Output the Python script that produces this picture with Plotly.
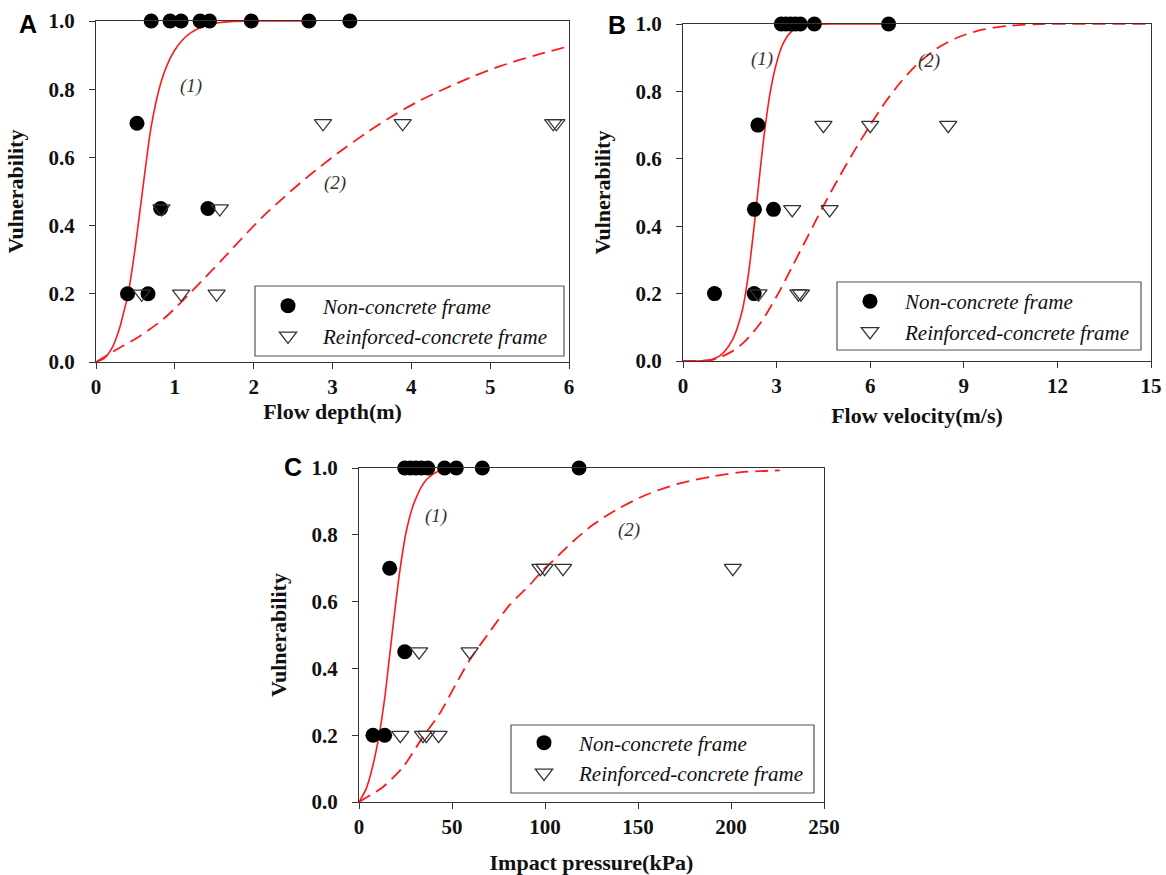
import plotly.graph_objects as go

# ---------------- data ----------------
# Panel A : flow depth (m)
a_nc_x = [0.70, 0.94, 1.08, 1.32, 1.44, 1.97, 2.70, 3.22, 0.52, 0.82, 1.42, 0.40, 0.66]
a_nc_y = [1.0, 1.0, 1.0, 1.0, 1.0, 1.0, 1.0, 1.0, 0.70, 0.45, 0.45, 0.20, 0.20]
a_rc_x = [2.88, 3.89, 5.80, 5.84, 0.83, 1.57, 0.58, 1.08, 1.53]
a_rc_y = [0.70, 0.70, 0.70, 0.70, 0.45, 0.45, 0.20, 0.20, 0.20]
a_fit1_x = [0, 0.1, 0.2, 0.3, 0.35, 0.4, 0.45, 0.5, 0.55, 0.6, 0.65, 0.7, 0.8, 0.9, 1.0, 1.1, 1.2, 1.35, 1.5, 1.7, 2.0, 2.8]
a_fit1_y = [0, 0.01, 0.04, 0.10, 0.145, 0.19, 0.26, 0.34, 0.43, 0.52, 0.61, 0.69, 0.80, 0.87, 0.915, 0.945, 0.965, 0.983, 0.993, 0.998, 1.0, 1.0]
a_fit2_x = [0, 0.25, 0.55, 0.85, 1.10, 1.35, 1.60, 1.86, 2.11, 2.37, 2.59, 2.84, 3.10, 3.43, 3.73, 4.07, 4.41, 4.79, 5.12, 5.55, 6.0]
a_fit2_y = [0, 0.035, 0.075, 0.125, 0.18, 0.24, 0.30, 0.365, 0.425, 0.48, 0.525, 0.572, 0.618, 0.672, 0.717, 0.762, 0.80, 0.838, 0.867, 0.898, 0.926]

# Panel B : flow velocity (m/s)
b_nc_x = [3.15, 3.30, 3.45, 3.60, 3.76, 4.21, 6.59, 2.40, 2.29, 2.90, 1.01, 2.28]
b_nc_y = [1.0, 1.0, 1.0, 1.0, 1.0, 1.0, 1.0, 0.70, 0.45, 0.45, 0.20, 0.20]
b_rc_x = [4.50, 6.00, 8.50, 3.50, 4.70, 2.42, 3.70, 3.78]
b_rc_y = [0.70, 0.70, 0.70, 0.45, 0.45, 0.20, 0.20, 0.20]
b_fit1_x = [0, 0.8, 1.2, 1.6, 1.9, 2.1, 2.28, 2.42, 2.6, 2.8, 3.0, 3.2, 3.45, 3.8, 4.3, 5.0, 6.6]
b_fit1_y = [0, 0.002, 0.017, 0.066, 0.15, 0.26, 0.40, 0.52, 0.67, 0.80, 0.885, 0.94, 0.975, 0.993, 0.999, 1.0, 1.0]
b_fit2_x = [0, 1.0, 1.6, 2.0, 2.5, 3.05, 3.5, 4.0, 4.5, 5.0, 5.5, 6.0, 6.5, 7.0, 7.5, 8.1, 8.8, 9.6, 10.5, 11.5, 15.0]
b_fit2_y = [0, 0.005, 0.03, 0.06, 0.115, 0.20, 0.28, 0.37, 0.46, 0.545, 0.625, 0.70, 0.77, 0.83, 0.88, 0.925, 0.96, 0.983, 0.995, 1.0, 1.0]

# Panel C : impact pressure (kPa)
c_nc_x = [24.6, 27.5, 30.5, 33.5, 37.0, 46.0, 52.3, 66.3, 118.3, 16.5, 24.6, 7.5, 13.8]
c_nc_y = [1.0, 1.0, 1.0, 1.0, 1.0, 1.0, 1.0, 1.0, 1.0, 0.70, 0.45, 0.20, 0.20]
c_rc_x = [97.5, 99.8, 109.7, 201.0, 32.3, 59.5, 22.2, 34.4, 36.2, 42.8]
c_rc_y = [0.70, 0.70, 0.70, 0.70, 0.45, 0.45, 0.20, 0.20, 0.20, 0.20]
c_fit1_x = [0, 3.9, 7.5, 10.8, 13.8, 16.5, 19.2, 21.9, 25.4, 29.9, 36.2, 43.4, 53.0]
c_fit1_y = [0, 0.04, 0.11, 0.20, 0.31, 0.44, 0.57, 0.69, 0.81, 0.90, 0.965, 0.992, 1.0]
c_fit2_x = [0, 6, 12.9, 23.7, 34.4, 43.4, 52.3, 59.5, 70.3, 81, 91.8, 99, 104.3, 115, 125.8, 138.4, 154.5, 172.4, 190.3, 204.7, 226.2]
c_fit2_y = [0, 0.02, 0.045, 0.105, 0.195, 0.265, 0.355, 0.425, 0.51, 0.59, 0.65, 0.695, 0.722, 0.78, 0.83, 0.875, 0.92, 0.954, 0.975, 0.987, 0.993]

series_names = ["Non-concrete frame", "Reinforced-concrete frame"]
x_titles = ["Flow depth(m)", "Flow velocity(m/s)", "Impact pressure(kPa)"]
y_title = "Vulnerability"
panel_letters = ["A", "B", "C"]
curve_labels = ["(1)", "(2)"]

# ---------------- layout helpers (page pixels -> paper fraction) ----------------
W, H, OFF = 1166, 875, 0
def px_x(p):
    return (p - OFF) / W
def px_y(p):
    return 1 - (p - OFF) / H

SERIF = "Liberation Serif, Times New Roman, serif"
SANS = "Liberation Sans, Arial, sans-serif"
RED = "#ff1a1a"
AX = "#333333"

fig = go.Figure()

panels = [
    dict(xa="x", ya="y", leg="legend", nc=(a_nc_x, a_nc_y), rc=(a_rc_x, a_rc_y),
         f1=(a_fit1_x, a_fit1_y), f2=(a_fit2_x, a_fit2_y)),
    dict(xa="x2", ya="y2", leg="legend2", nc=(b_nc_x, b_nc_y), rc=(b_rc_x, b_rc_y),
         f1=(b_fit1_x, b_fit1_y), f2=(b_fit2_x, b_fit2_y)),
    dict(xa="x3", ya="y3", leg="legend3", nc=(c_nc_x, c_nc_y), rc=(c_rc_x, c_rc_y),
         f1=(c_fit1_x, c_fit1_y), f2=(c_fit2_x, c_fit2_y)),
]

for p in panels:
    fig.add_trace(go.Scatter(x=p["f1"][0], y=p["f1"][1], xaxis=p["xa"], yaxis=p["ya"],
                             mode="lines", line=dict(color=RED, width=1.6, shape="spline", smoothing=0.8),
                             showlegend=False, hoverinfo="skip", cliponaxis=False))
    fig.add_trace(go.Scatter(x=p["f2"][0], y=p["f2"][1], xaxis=p["xa"], yaxis=p["ya"],
                             mode="lines", line=dict(color=RED, width=1.8, dash="13px,7px", shape="spline", smoothing=0.8),
                             showlegend=False, hoverinfo="skip", cliponaxis=False))
    fig.add_trace(go.Scatter(x=p["nc"][0], y=p["nc"][1], xaxis=p["xa"], yaxis=p["ya"],
                             mode="markers", name=series_names[0], legend=p["leg"],
                             marker=dict(symbol="circle", size=15, color="black"),
                             cliponaxis=False))
    fig.add_trace(go.Scatter(x=p["rc"][0], y=p["rc"][1], xaxis=p["xa"], yaxis=p["ya"],
                             mode="markers", name=series_names[1], legend=p["leg"],
                             marker=dict(symbol="triangle-down-open", size=15, color="#333",
                                         line=dict(color="#333", width=1.3)),
                             cliponaxis=False))

# axis geometry (page pixels of the plot boxes)
boxes = [
    (96, 569, 21, 362),
    (683, 1151, 24, 361),
    (359, 824, 468, 802),
]
x_ranges = [[0, 6], [0, 15], [0, 250]]
x_dticks = [1, 3, 50]
x_standoff = [0, 10, 19]

tickfont = dict(family=SERIF, size=21, color="#111", weight="bold")
titlefont = dict(family=SERIF, size=22, color="#111", weight="bold")

axis_common = dict(showgrid=False, zeroline=False, showline=True, linecolor=AX, linewidth=1.3,
                   mirror=True, ticks="outside", ticklen=6, tickwidth=1.2, tickcolor=AX,
                   tickfont=tickfont, automargin=False)

layout = {}
for i, (l, r, t, b) in enumerate(boxes):
    sx = "" if i == 0 else str(i + 1)
    layout["xaxis" + sx] = dict(domain=[px_x(l), px_x(r)], range=x_ranges[i], dtick=x_dticks[i],
                                tick0=0, anchor="y" + sx, ticklabeloverflow="allow",
                                title=dict(text=x_titles[i], font=titlefont, standoff=x_standoff[i]),
                                **axis_common)
    layout["yaxis" + sx] = dict(domain=[px_y(b), px_y(t)], range=[0, 1], dtick=0.2, tick0=0,
                                tickformat=".1f", anchor="x" + sx, ticklabelstandoff=10,
                                title=dict(text=y_title, font=titlefont, standoff=18),
                                **axis_common)

# legends (one per panel) and their frames
legend_boxes = [(255, 564, 286, 356), (837, 1141, 282, 350), (511, 814, 725, 793)]
legend_pos = [(253, 285.5), (835, 281), (509, 722.5)]
legfont = dict(family=SERIF, size=21, color="#111", style="italic")
shapes = []
for i, (lx, ly) in enumerate(legend_pos):
    key = "legend" if i == 0 else "legend%d" % (i + 1)
    layout[key] = dict(x=px_x(lx), y=px_y(ly), xanchor="left", yanchor="top",
                       bgcolor="rgba(0,0,0,0)", borderwidth=0, font=legfont,
                       itemwidth=60, tracegroupgap=0, orientation="v")
    l, r, t, b = legend_boxes[i]
    shapes.append(dict(type="rect", xref="paper", yref="paper", x0=px_x(l), x1=px_x(r),
                       y0=px_y(b), y1=px_y(t), line=dict(color="#555", width=1.2),
                       fillcolor="rgba(0,0,0,0)", layer="below"))

annotations = []
letter_pos = [(28, 24), (617, 25), (293, 467)]
for i, (x, y) in enumerate(letter_pos):
    annotations.append(dict(text=panel_letters[i], xref="paper", yref="paper", x=px_x(x), y=px_y(y),
                            xanchor="center", yanchor="middle", showarrow=False,
                            font=dict(family=SANS, size=25, color="black", weight="bold")))

label_pos = [
    ("x", "y", (1.21, 0.81), (3.03, 0.524)),
    ("x2", "y2", (2.53, 0.896), (7.87, 0.891)),
    ("x3", "y3", (41.2, 0.855), (145.2, 0.815)),
]
for xr, yr, p1, p2 in label_pos:
    for txt, (x, y) in zip(curve_labels, (p1, p2)):
        annotations.append(dict(text=txt, xref=xr, yref=yr, x=x, y=y, showarrow=False,
                                xanchor="center", yanchor="middle",
                                font=dict(family=SERIF, size=19, color="#333", style="italic")))

fig.update_layout(**layout)
fig.update_layout(width=W, height=H, margin=dict(l=0, r=0, t=0, b=0, pad=0, autoexpand=False),
                  paper_bgcolor="white", plot_bgcolor="white", showlegend=True,
                  shapes=shapes, annotations=annotations)

fig.write_html("out.html", config={"displayModeBar": False},
               post_script="document.body.style.margin='0px';document.body.style.overflow='hidden';")
